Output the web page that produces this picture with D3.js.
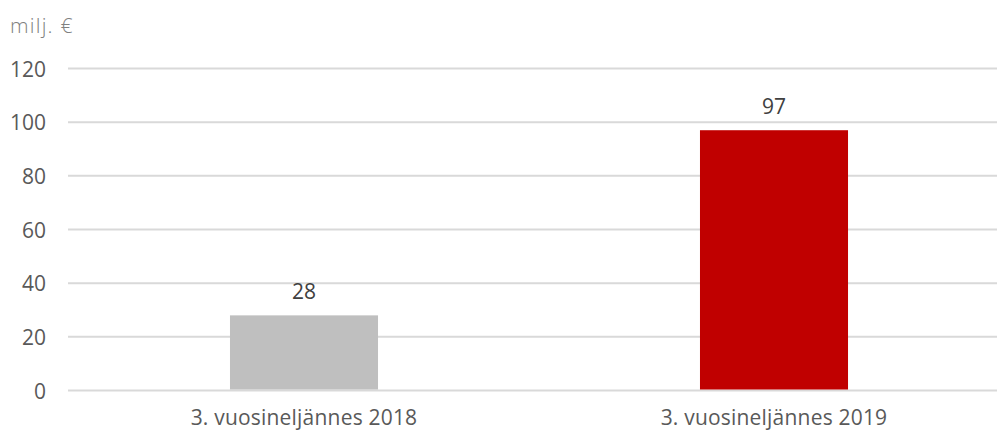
<!DOCTYPE html>
<html>
<head>
<meta charset="utf-8">
<script src="https://cdn.jsdelivr.net/npm/d3@7"></script>
<style>
  html, body { margin: 0; padding: 0; background: #fff; }
  svg { display: block; }
  text { font-family: "Open Sans", "Noto Sans", sans-serif; }
</style>
</head>
<body>
<svg id="chart" width="997" height="432"></svg>
<script>
const categories = ["3. vuosineljännes 2018", "3. vuosineljännes 2019"];
const values = [28, 97];
const barColors = ["#bfbfbf", "#c00000"];
const yTicks = [0, 20, 40, 60, 80, 100, 120];
const unitLabel = "milj. €";

const svg = d3.select("#chart");
const W = 997, H = 432;

const x = d3.scaleBand()
  .domain(categories)
  .range([69, 1009])
  .paddingInner(0.685)
  .paddingOuter(0.3425);

const y = d3.scaleLinear().domain([0, 120]).range([390.5, 68.5]);

// gridlines
svg.append("g").selectAll("line")
  .data(yTicks).join("line")
  .attr("x1", 68).attr("x2", W)
  .attr("y1", d => y(d)).attr("y2", d => y(d))
  .attr("stroke", "#d9d9d9").attr("stroke-width", 2);

// y axis tick labels
const yAxis = d3.axisLeft(y).tickValues(yTicks).tickSize(0).tickPadding(0);
const gy = svg.append("g").attr("transform", "translate(46,0)").call(yAxis);
gy.select(".domain").remove();
gy.selectAll("text")
  .attr("fill", "#595959")
  .attr("dy", "0.36em")
  .style("font-size", "21px")
  .style("font-family", "'Open Sans', sans-serif");

// unit label
svg.append("text")
  .attr("x", 10).attr("y", 33)
  .attr("fill", "#808080")
  .style("font-size", "21px")
  .style("font-weight", "300")
  .style("letter-spacing", "1.2px")
  .text(unitLabel);

// bars
svg.append("g").selectAll("rect")
  .data(values).join("rect")
  .attr("x", (d, i) => x(categories[i]))
  .attr("width", x.bandwidth())
  .attr("y", d => y(d))
  .attr("height", d => y(0) - y(d) - 1)
  .attr("fill", (d, i) => barColors[i]);

// value labels
svg.append("g").selectAll("text")
  .data(values).join("text")
  .attr("x", (d, i) => x(categories[i]) + x.bandwidth() / 2)
  .attr("y", d => y(d) - 16)
  .attr("text-anchor", "middle")
  .attr("fill", "#404040")
  .style("font-size", "21px")
  .text(d => d);

// x axis labels
const xAxis = d3.axisBottom(x).tickSize(0).tickPadding(0);
const gx = svg.append("g").attr("transform", "translate(0,0)").call(xAxis);
gx.select(".domain").remove();
gx.selectAll("text")
  .attr("fill", "#595959")
  .attr("y", 425)
  .attr("dy", "0")
  .style("font-size", "21px")
  .style("letter-spacing", "0.2px")
  .style("font-family", "'Open Sans', sans-serif");
</script>
</body>
</html>
